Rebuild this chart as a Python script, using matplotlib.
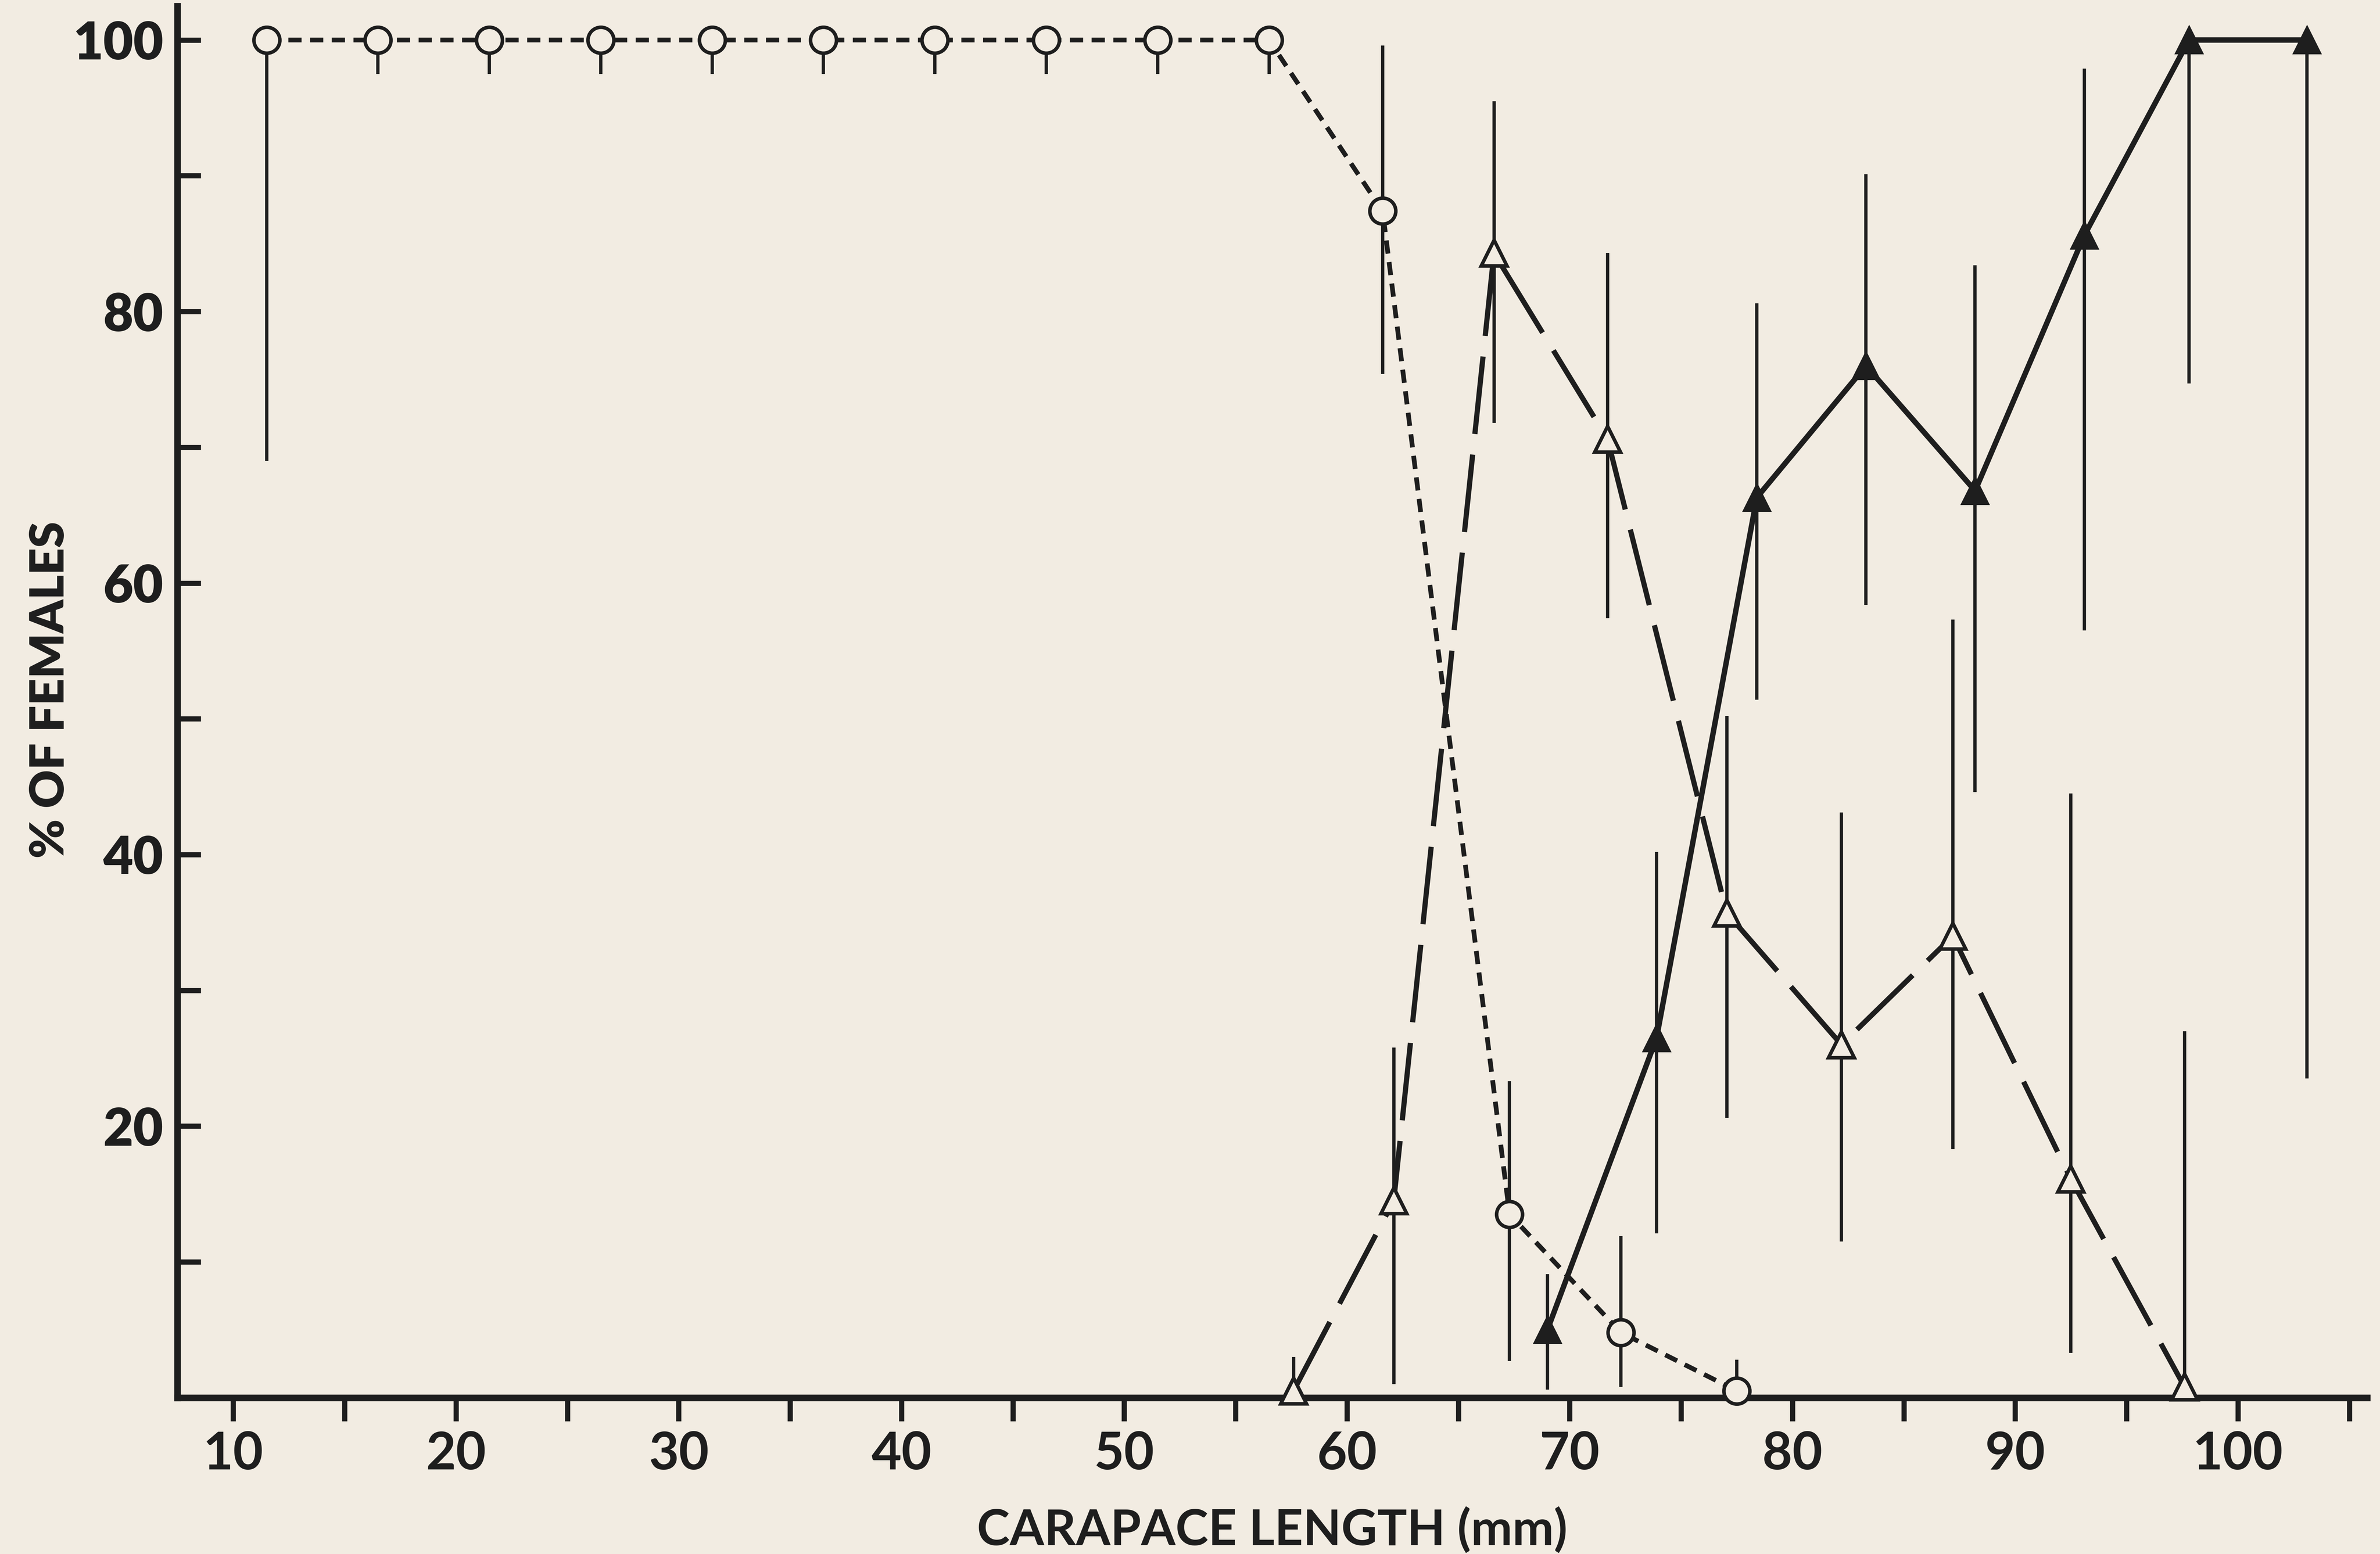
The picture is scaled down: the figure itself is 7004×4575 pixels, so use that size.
import matplotlib
matplotlib.use("Agg")
from matplotlib import pyplot as plt

# carapace length (mm), % of females, and vertical range bars
circ_x = [11.5, 16.5, 21.5, 26.5, 31.5, 36.5, 41.5, 46.5, 51.5, 56.5, 61.6, 67.3, 72.3, 77.5]
circ_y = [100, 100, 100, 100, 100, 100, 100, 100, 100, 100, 87.4, 13.5, 4.8, 0.5]
circ_lo = [69, 97.5, 97.5, 97.5, 97.5, 97.5, 97.5, 97.5, 97.5, 97.5, 75.4, 2.7, 0.8, 0]
circ_hi = [100, 100, 100, 100, 100, 100, 100, 100, 100, 100, 99.6, 23.3, 11.9, 2.8]

otri_x = [57.6, 62.1, 66.6, 71.7, 77.05, 82.2, 87.2, 92.5, 97.6]
otri_y = [0.5, 14.5, 84.3, 70.6, 35.7, 26.0, 34.0, 16.1, 0.8]
otri_lo = [0, 1, 71.8, 57.4, 20.6, 11.5, 18.3, 3.3, 0]
otri_hi = [3, 25.8, 95.5, 84.3, 50.2, 43.1, 57.3, 44.5, 27.0]

ftri_x = [69.0, 73.9, 78.4, 83.3, 88.2, 93.1, 97.8, 103.1]
ftri_y = [5.0, 26.5, 66.3, 76.0, 66.8, 85.6, 100, 100]
ftri_lo = [0.6, 12.1, 51.4, 58.4, 44.6, 56.5, 74.7, 23.5]
ftri_hi = [9.1, 40.2, 80.6, 90.1, 83.4, 97.9, 100, 100]

x_ticks = [10, 20, 30, 40, 50, 60, 70, 80, 90, 100]
y_ticks = [20, 40, 60, 80, 100]

bg = "#f2ece2"
ink = "#1e1e1e"

plt.rcParams['font.family'] = ['Lato', 'DejaVu Sans']

fig = plt.figure(figsize=(14.008, 9.15), dpi=500, facecolor=bg)
ax = fig.add_axes([0.0746, 0.1006, 0.920, 0.8955])
ax.set_facecolor(bg)
ax.set_xlim(7.5, 105.8)
ax.set_ylim(0, 102.5)

# range bars
ax.vlines(circ_x, circ_lo, circ_hi, color=ink, lw=1.4, zorder=1, clip_on=False)
ax.vlines(otri_x, otri_lo, otri_hi, color=ink, lw=1.4, zorder=1, clip_on=False)
ax.vlines(ftri_x, ftri_lo, ftri_hi, color=ink, lw=1.4, zorder=1, clip_on=False)

# series
ax.plot(circ_x, circ_y, color=ink, lw=2.0, dashes=(2.8, 1.8), marker='o', markersize=11,
        markerfacecolor=bg, markeredgecolor=ink, markeredgewidth=1.5, zorder=3, clip_on=False)
ax.plot(otri_x, otri_y, color=ink, lw=2.2, dashes=(15, 4), marker='^', markersize=11,
        markerfacecolor=bg, markeredgecolor=ink, markeredgewidth=1.5, zorder=3, clip_on=False)
ax.plot(ftri_x, ftri_y, color=ink, lw=2.3, marker='^', markersize=11,
        markerfacecolor=ink, markeredgecolor=ink, zorder=3, clip_on=False)

for s in ['top', 'right']:
    ax.spines[s].set_visible(False)
for s in ['left', 'bottom']:
    ax.spines[s].set_linewidth(2.8)
    ax.spines[s].set_color(ink)

ax.set_xticks(x_ticks)
ax.set_xticks([15, 25, 35, 45, 55, 65, 75, 85, 95, 105], minor=True)
ax.set_yticks(y_ticks)
ax.set_yticks([10, 30, 50, 70, 90], minor=True)
ax.set_yticklabels([str(v) for v in y_ticks], fontsize=22, fontweight='heavy', color=ink)
ax.set_xticklabels([str(v) for v in x_ticks], fontsize=22, fontweight='bold', color=ink)

ax.tick_params(axis='x', which='both', direction='out', length=10, width=2.2, color=ink, pad=4)
ax.tick_params(axis='y', which='both', direction='in', length=10, width=2.2, color=ink, pad=6)

ax.set_xlabel("CARAPACE LENGTH (mm)", fontsize=21, fontweight='bold', color=ink, labelpad=12)
fig.text(0.021, 0.556, "% OF FEMALES", rotation=90, ha='center', va='center',
         fontsize=20, fontweight='heavy', color=ink)

fig.savefig("out.png", dpi=500, facecolor=bg)
